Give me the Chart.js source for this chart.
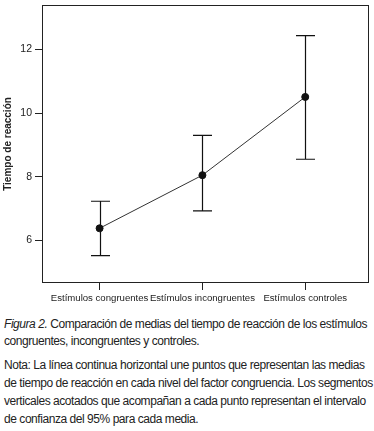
<!DOCTYPE html>
<html>
<head>
<meta charset="utf-8">
<script src="https://cdn.jsdelivr.net/npm/chart.js@4/dist/chart.umd.min.js"></script>
<style>
    body { margin: 0; width: 374px; height: 431px; background: #fff; font-family: "Liberation Sans", Arial, sans-serif; color: #222; overflow: hidden; }
    #wrap { position: relative; width: 374px; height: 310px; }
    .caption { margin: 0; padding: 0 0 0 4px; font-size: 12px; line-height: 17px; letter-spacing: -0.45px; white-space: nowrap; }
    #fig { position: absolute; top: 316px; left: 0; width: 374px; }
    #nota { position: absolute; top: 356px; left: 0; width: 374px; line-height: 18px; }
</style>
</head>
<body>
<div id="wrap"><canvas id="chart" width="374" height="310"></canvas></div>
<p class="caption" id="fig"><i>Figura 2.</i> Comparación de medias del tiempo de reacción de los estímulos<br>congruentes, incongruentes y controles.</p>
<p class="caption" id="nota">Nota: La línea continua horizontal une puntos que representan las medias<br>de tiempo de reacción en cada nivel del factor congruencia. Los segmentos<br>verticales acotados que acompañan a cada punto representan el intervalo<br>de confianza del 95% para cada media.</p>
<script>
const categories = ["Estímulos congruentes", "Estímulos incongruentes", "Estímulos controles"];
const means = [6.38, 8.05, 10.51];
const ciLower = [5.52, 6.93, 8.55];
const ciUpper = [7.23, 9.30, 12.44];
const yTicks = [6, 8, 10, 12];

const FONT = '"Liberation Sans Narrow", "Liberation Sans", Arial, sans-serif';

// box around the plot area
const boxPlugin = {
    id: "box",
    beforeDraw(chart) {
        const { ctx, chartArea: a } = chart;
        ctx.save();
        ctx.strokeStyle = "#222";
        ctx.lineWidth = 1;
        ctx.strokeRect(a.left + 0.5, a.top + 0.5, a.right - a.left - 1, a.bottom - a.top - 1);
        ctx.restore();
    }
};

// confidence interval bars with caps
const errorBars = {
    id: "errorBars",
    beforeDatasetsDraw(chart) {
        const { ctx, scales: { x, y } } = chart;
        ctx.save();
        ctx.strokeStyle = "#111";
        ctx.lineWidth = 1.2;
        categories.forEach((c, i) => {
            const px = Math.round(x.getPixelForValue(i)) + 0.5;
            const top = y.getPixelForValue(ciUpper[i]);
            const bot = y.getPixelForValue(ciLower[i]);
            ctx.beginPath();
            ctx.moveTo(px, top);
            ctx.lineTo(px, bot);
            ctx.moveTo(px - 9.5, top);
            ctx.lineTo(px + 9.5, top);
            ctx.moveTo(px - 9.5, bot);
            ctx.lineTo(px + 9.5, bot);
            ctx.stroke();
        });
        ctx.restore();
    }
};

new Chart(document.getElementById("chart"), {
    type: "line",
    data: {
        datasets: [{
            data: means.map((m, i) => ({ x: i, y: m })),
            borderColor: "#333",
            borderWidth: 1,
            pointRadius: 3.5,
            pointBackgroundColor: "#111",
            pointBorderColor: "#111",
            tension: 0
        }]
    },
    plugins: [boxPlugin, errorBars],
    options: {
        responsive: false,
        animation: false,
        events: [],
        layout: { padding: { top: 3, right: 4, left: 0, bottom: 0 } },
        plugins: { legend: { display: false }, tooltip: { enabled: false } },
        scales: {
            x: {
                type: "linear",
                min: -0.56,
                max: 2.62,
                afterFit(s) { s.height = 27; s.paddingLeft = 0; s.paddingRight = 0; },
                afterBuildTicks(s) { s.ticks = categories.map((c, i) => ({ value: i })); },
                border: { display: false },
                grid: { drawOnChartArea: false, tickLength: 7, color: "#222" },
                ticks: {
                    color: "#222",
                    padding: 3,
                    maxRotation: 0,
                    autoSkip: false,
                    font: { family: FONT, size: 9.6 },
                    callback: (v) => categories[v]
                }
            },
            y: {
                min: 4.66,
                max: 13.4,
                afterFit(s) { s.width = 42; s.paddingTop = 0; s.paddingBottom = 0; },
                afterBuildTicks(s) { s.ticks = yTicks.map(v => ({ value: v })); },
                border: { display: false },
                grid: { drawOnChartArea: false, tickLength: 7, color: "#222" },
                ticks: {
                    color: "#222",
                    padding: 3,
                    font: { family: FONT, size: 10.5 }
                },
                title: {
                    display: true,
                    text: "Tiempo de reacción",
                    color: "#222",
                    padding: { top: 2, bottom: 0 },
                    font: { family: FONT, size: 10, weight: "bold" }
                }
            }
        }
    }
});
</script>
</body>
</html>
